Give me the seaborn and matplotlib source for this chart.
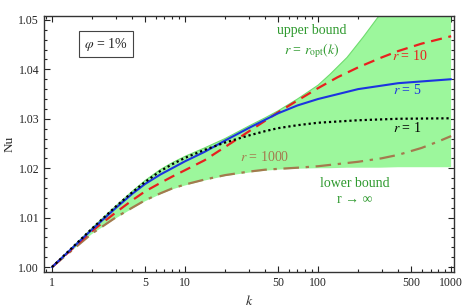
import numpy as np
import pandas as pd
import matplotlib
matplotlib.use("Agg")
import matplotlib.pyplot as plt
from matplotlib.ticker import MultipleLocator, NullFormatter, FixedLocator, FormatStrFormatter
import seaborn as sns

# values: k and Nu - 1
k_band = [1, 2, 3, 4, 5, 6.5, 8, 10, 14, 20, 30, 40, 50, 70, 100, 123, 165, 218, 292, 400, 1000]
d_upper = [0, .0079, .0123, .0153, .0175, .0197, .0211, .0224, .0241, .0260, .0285,
           .0302, .0316, .0340, .0368, .0390, .0424, .0465, .0511, .057, .075]
d_lower = [0, .0067, .0098, .0118, .0133, .0147, .0157, .0165, .0175, .0184, .0191,
           .0195, .0197, .0199, .0200, .0200, .0201, .0201, .0201, .0202, .0202]

k_r1 = [1, 2, 3, 4, 5, 6.5, 8, 10, 14, 20, 30, 40, 50, 70, 100, 200, 400, 1000]
d_r1 = [0, .0078, .0122, .0151, .0172, .0194, .0208, .0221, .0237, .0252, .0266,
        .0275, .0281, .0287, .0292, .0297, .0300, .0301]

k_r5 = [1, 2, 3, 4, 5, 6.5, 8, 10, 14, 20, 30, 40, 50, 70, 100, 200, 400, 1000]
d_r5 = [0, .0076, .0119, .0148, .0168, .0187, .0200, .0214, .0233, .0256, .0281,
        .0298, .0311, .0327, .0340, .0360, .0372, .0380]

k_r10 = [1, 2, 3, 4, 5, 6.5, 8, 10, 14, 20, 30, 40, 50, 70, 100, 140, 200, 300, 400, 600, 1000]
d_r10 = [0, .0073, .0110, .0135, .0153, .0170, .0183, .0196, .0216, .0243, .0274,
         .0296, .0313, .0337, .0362, .0384, .0404, .0424, .0437, .0452, .0467]

k_r1000 = [1, 2, 3, 4, 5, 6.5, 8, 10, 14, 20, 30, 40, 70, 100, 200, 300, 400, 600, 800, 1000]
d_r1000 = [0, .0068, .0100, .0120, .0135, .0149, .0159, .0167, .0177, .0186, .0193,
           .0197, .0201, .0204, .0213, .0220, .0227, .0241, .0254, .0265]

x_ticks = [1, 5, 10, 50, 100, 500, 1000]
x_tick_labels = ["1", "5", "10", "50", "100", "500", "1000"]

nu = lambda d: 1 + np.array(d)

sns.set_style("ticks")
plt.rcParams['font.family'] = ['Liberation Serif', 'DejaVu Serif']
plt.rcParams['mathtext.fontset'] = 'stix'

fig = plt.figure(figsize=(4.63, 3.07), dpi=100)
ax = fig.add_axes([0.095, 0.114, 0.886, 0.834])

ax.fill_between(k_band, nu(d_lower), nu(d_upper), color="#9cf79c", lw=0)
sns.lineplot(x=k_band, y=nu(d_upper), ax=ax, color="#6edc6e", lw=0.8)

sns.lineplot(x=k_r1000, y=nu(d_r1000), ax=ax, color="#a47a4e", lw=1.6,
             linestyle=(0, (7, 3, 1.5, 3)))
sns.lineplot(x=k_r10, y=nu(d_r10), ax=ax, color="#e8201e", lw=1.6,
             linestyle=(0, (5, 3)))
sns.lineplot(x=k_r5, y=nu(d_r5), ax=ax, color="#1c34e0", lw=1.5)
sns.lineplot(x=k_r1, y=nu(d_r1), ax=ax, color="black", lw=1.6,
             linestyle=(0, (1, 1.3)))

ax.set_xscale("log")
ax.set_xlim(0.87, 1055)
ax.set_ylim(0.999, 1.0508)
ax.xaxis.set_major_locator(FixedLocator(x_ticks))
ax.set_xticklabels(x_tick_labels)
ax.xaxis.set_minor_formatter(NullFormatter())
ax.yaxis.set_major_locator(MultipleLocator(0.01))
ax.yaxis.set_minor_locator(MultipleLocator(0.002))
ax.yaxis.set_major_formatter(FormatStrFormatter("%.2f"))

ax.tick_params(which="both", direction="in", top=True, right=True,
               labelsize=8.5, colors="#222222", width=0.8)
ax.tick_params(which="major", length=4)
ax.tick_params(which="minor", length=2)
for s in ax.spines.values():
    s.set_color("#333333")
    s.set_linewidth(1.0)

ax.set_xlabel("$k$", fontsize=10, labelpad=4)
ax.set_ylabel("Nu", fontsize=9.5, labelpad=2)

ax.text(0.151, 0.89, r"$\varphi$ = 1%", transform=ax.transAxes, fontsize=10,
        ha="center", va="center",
        bbox=dict(boxstyle="square,pad=0.35", fc="white", ec="#444444", lw=0.8))

green = "#2f9a2f"
fs = 10
ax.text(90, 1.0479, "upper bound", color=green, fontsize=fs, ha="center", va="center")
ax.text(90, 1.0438, r"$r$ = $r_{\rm opt}(k)$", color=green, fontsize=fs, ha="center", va="center")
ax.text(492, 1.0428, r"$r$ = 10", color="#e8201e", fontsize=fs, ha="center", va="center")
ax.text(467, 1.0358, r"$r$ = 5", color="#1c34e0", fontsize=fs, ha="center", va="center")
ax.text(467, 1.0281, r"$r$ = 1", color="black", fontsize=fs, ha="center", va="center")
ax.text(40, 1.0222, r"$r$ = 1000", color="#a47a4e", fontsize=fs, ha="center", va="center")
ax.text(190, 1.0170, "lower bound", color=green, fontsize=fs, ha="center", va="center")
ax.text(190, 1.0136, "r → ∞", color=green, fontsize=fs, ha="center", va="center")

fig.savefig("out.png", dpi=100)
